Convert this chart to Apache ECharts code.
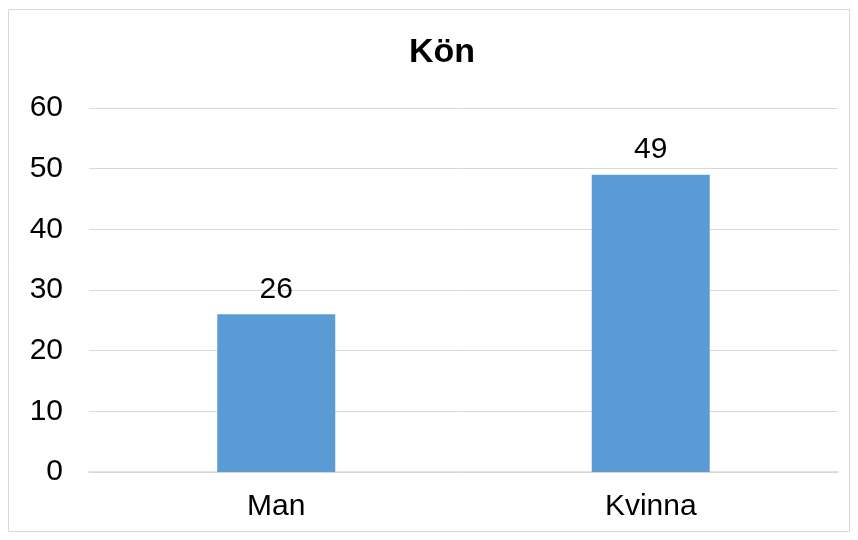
<!DOCTYPE html>
<html>
<head>
<meta charset="utf-8">
<script src="https://cdn.jsdelivr.net/npm/echarts@6/dist/echarts.min.js"></script>
<style>
    html, body { margin: 0; padding: 0; background: #fff; }
    #chart { width: 858px; height: 540px; }
</style>
</head>
<body>
<div id="chart"></div>
<script>
    // data
    var categories = ['Man', 'Kvinna'];
    var values = [26, 49];
    var yTicks = [0, 10, 20, 30, 40, 50, 60];

    var myChart = echarts.init(document.getElementById('chart'));
    var font = '"Liberation Sans", Arial, sans-serif';

    var option = {
        animation: false,
        title: {
            text: 'Kön',
            left: 404,
            top: 31,
            textStyle: { fontFamily: font, fontSize: 34, fontWeight: 'bold', color: '#000' }
        },
        graphic: [{
            type: 'rect',
            shape: { x: 8.5, y: 9.5, width: 841, height: 522 },
            style: { fill: 'none', stroke: '#d9d9d9', lineWidth: 1 },
            silent: true
        }],
        grid: { left: 89, right: 20, top: 108, bottom: 68 },
        xAxis: {
            type: 'category',
            data: categories,
            axisLine: { lineStyle: { color: '#d9d9d9', width: 1.5 } },
            axisTick: { show: false },
            axisLabel: { fontFamily: font, fontSize: 30, color: '#000', margin: 20 }
        },
        yAxis: {
            type: 'value',
            min: yTicks[0],
            max: yTicks[yTicks.length - 1],
            interval: 10,
            axisLine: { show: false },
            axisTick: { show: false },
            splitLine: { lineStyle: { color: '#d9d9d9', width: 1 } },
            axisLabel: { fontFamily: font, fontSize: 30, color: '#000', margin: 26 }
        },
        series: [{
            type: 'bar',
            data: values,
            barWidth: 118,
            itemStyle: { color: '#5b9bd5' },
            label: {
                show: true,
                position: 'top',
                distance: 10,
                fontFamily: font,
                fontSize: 30,
                color: '#000'
            }
        }]
    };

    myChart.setOption(option);
    window.addEventListener('resize', function () { myChart.resize(); });
</script>
</body>
</html>
